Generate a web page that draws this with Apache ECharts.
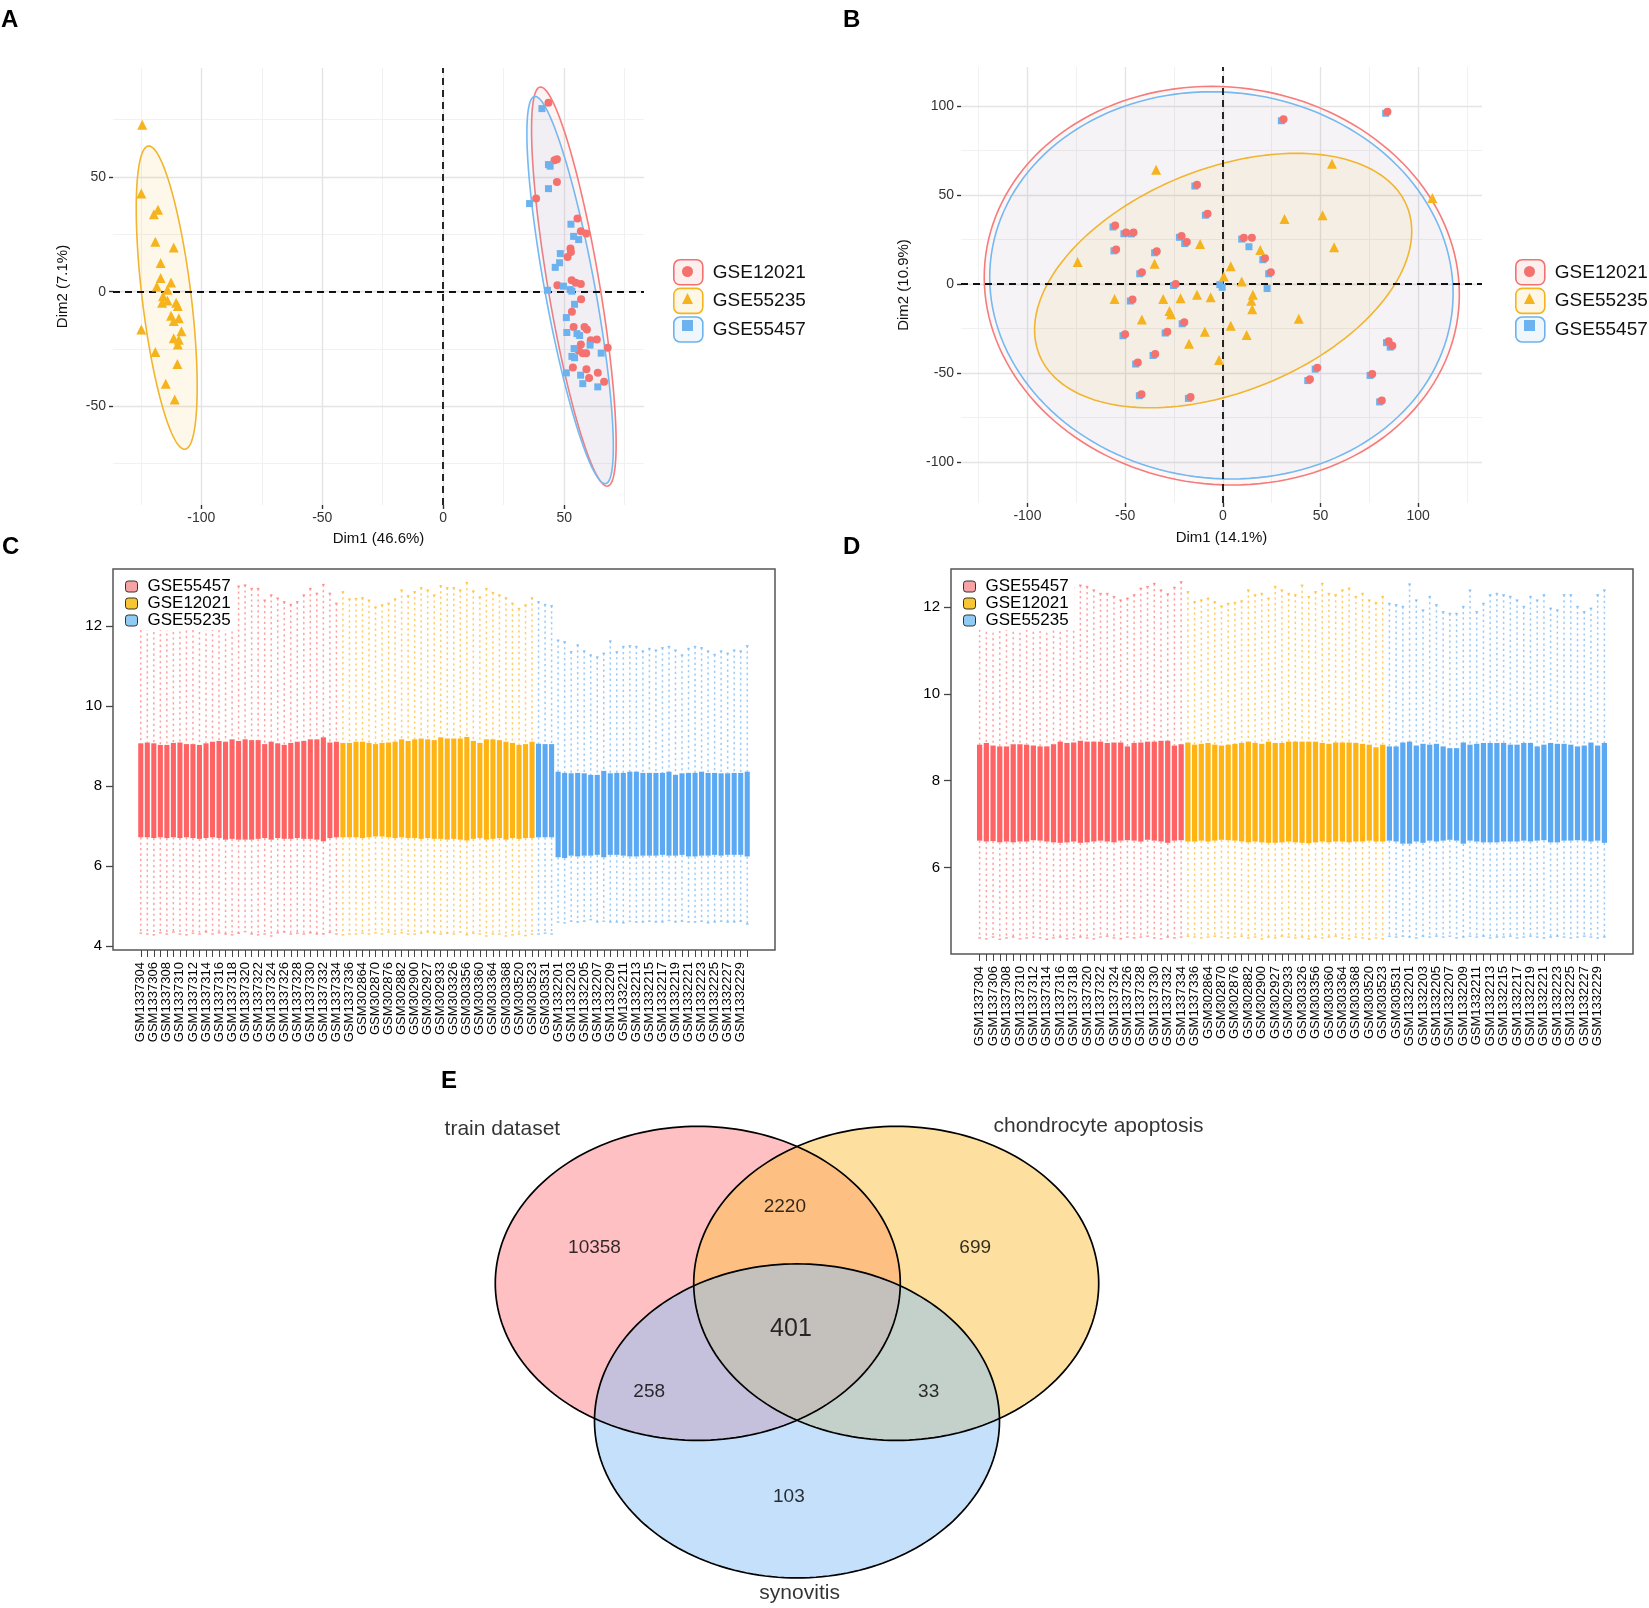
<!DOCTYPE html>
<html><head><meta charset="utf-8">
<script src="https://cdn.jsdelivr.net/npm/echarts@6/dist/echarts.min.js"></script>
<style>html,body{margin:0;padding:0;background:#fff}#c{width:1649px;height:1608px}</style>
</head><body><div id="c"></div>
<script>
// ---------------- DATA ----------------
// Panel A (PCA before batch correction): [Dim1, Dim2]
const A_GSE12021 = [[43.5,82.3],[47.0,57.7],[46.0,57.3],[47.0,47.8],[38.4,40.6],[55.5,31.9],[56.9,26.3],[59.1,25.3],[52.6,18.8],[52.8,17.3],[51.4,15.1],[47.2,2.8],[53.1,5.0],[54.8,3.9],[56.9,3.3],[57.0,-3.3],[53.2,-8.8],[53.9,-15.4],[58.4,-15.4],[59.4,-16.5],[61.0,-21.2],[63.5,-20.9],[68.0,-24.4],[56.9,-23.0],[56.0,-25.6],[57.7,-26.8],[59.1,-26.8],[53.6,-33.1],[59.2,-33.8],[63.9,-35.4],[60.3,-37.6],[66.5,-39.3]];
const A_GSE55235 = [[-124.4,72.8],[-124.8,42.8],[-117.9,35.7],[-119.6,33.8],[-119.0,21.8],[-111.4,19.2],[-116.8,12.5],[-116.8,6.0],[-118.4,2.3],[-112.5,4.0],[-114.0,0.8],[-115.8,-2.0],[-114.0,-3.8],[-116.2,-4.8],[-110.4,-4.8],[-109.7,-6.3],[-112.5,-10.5],[-111.4,-12.8],[-109.3,-11.6],[-108.2,-17.3],[-111.4,-20.3],[-109.3,-21.0],[-109.7,-23.0],[-124.8,-16.5],[-119.0,-26.3],[-109.9,-31.5],[-114.7,-40.1],[-111.0,-47.0]];
const A_GSE55457 = [[40.8,79.8],[43.5,55.4],[44.2,54.7],[43.5,44.9],[35.7,38.4],[52.8,29.4],[53.9,24.1],[56.0,22.7],[48.4,16.6],[48.1,12.6],[46.3,10.6],[43.1,0.6],[49.7,2.4],[52.5,0.9],[53.2,0.2],[54.3,-5.5],[50.9,-11.3],[51.1,-17.8],[55.3,-18.3],[56.4,-19.1],[60.7,-23.3],[54.1,-24.8],[53.2,-28.2],[54.3,-28.8],[65.3,-26.8],[50.9,-35.4],[56.8,-36.4],[57.7,-40.1],[63.9,-41.5]];
// ellipses: [centerX, centerY, axis1X, axis1Y, axis2X, axis2Y]
const A_ELL_GSE12021 = [54.0,2.2,-13.75,87.0,10.8,0];
const A_ELL_GSE55235 = [-114.3,-2.6,-7.4,66.1,10.2,0];
const A_ELL_GSE55457 = [52.45,0.7,-14.45,84.4,10.5,0];

// Panel B (PCA after batch correction)
const B_GSE12021 = [[31.1,92.6],[84.3,96.9],[-13.2,55.9],[-7.8,39.5],[-55.1,32.9],[-49.5,29.0],[-45.7,29.0],[-54.6,19.5],[-33.8,18.4],[-41.4,6.6],[-21.1,27.1],[-18.4,23.6],[10.8,26.1],[14.9,26.1],[21.6,14.5],[24.6,6.6],[-24.1,0.0],[-46.2,-8.7],[-50.0,-28.2],[-19.7,-21.5],[-28.4,-26.7],[-34.6,-39.3],[-43.5,-44.1],[-41.6,-61.9],[-16.5,-63.4],[48.4,-47.0],[44.6,-53.4],[76.5,-50.5],[81.4,-65.4],[84.9,-32.1],[86.8,-34.6]];
const B_GSE55235 = [[-34.1,64.2],[55.9,67.7],[107.3,48.4],[31.6,36.6],[51.1,38.7],[57.0,20.7],[-11.6,22.6],[19.2,19.1],[-74.3,12.4],[-34.9,11.4],[4.1,10.1],[0.5,4.3],[9.7,1.4],[-55.4,-8.3],[-30.5,-8.3],[-21.6,-7.9],[-13.2,-6.0],[-6.2,-7.4],[15.4,-6.0],[14.6,-9.3],[15.1,-14.1],[-41.4,-19.9],[-27.3,-15.1],[-26.5,-17.0],[38.9,-19.5],[-9.2,-26.7],[4.1,-23.4],[12.2,-28.6],[-17.3,-33.5],[-1.9,-42.6]];
const B_GSE55457 = [[30.0,91.8],[83.4,96.0],[-14.3,55.1],[-8.9,38.7],[-56.2,32.1],[-50.6,28.3],[-46.8,28.2],[-55.7,18.7],[-34.9,17.6],[-42.5,5.8],[-22.2,26.3],[-19.5,22.8],[9.7,25.3],[13.4,21.0],[20.5,13.7],[23.5,5.8],[-25.2,-0.8],[-47.3,-9.5],[-51.1,-29.0],[-20.8,-22.3],[-29.5,-27.5],[-35.7,-40.1],[-44.6,-44.9],[-42.7,-62.7],[-17.6,-64.2],[47.3,-47.8],[43.5,-54.2],[75.4,-51.3],[80.3,-66.2],[83.8,-32.9],[85.7,-35.4],[22.7,-2.5],[-1.5,-0.3],[-0.3,-1.8]];
const B_ELL_GSE12021 = [-0.5,-0.9,-5.2,112.0,121.5,0];
const B_ELL_GSE55235 = [0.2,2.0,37.4,71.5,89.0,0];
const B_ELL_GSE55457 = [-0.7,-0.7,-5.0,108.8,118.5,0];

// Axis ticks / grid values
const ticksA_x = [-100,-50,0,50], ticksA_y = [-50,0,50];
const minorA_x = [-125,-75,-25,25,75], minorA_y = [-75,-25,25,75];
const ticksB = [-100,-50,0,50,100];
const minorB_x = [-125,-75,-25,25,75,125], minorB_y = [-75,-25,25,75];
const ticksC_y = [4,6,8,10,12], ticksD_y = [6,8,10,12];

// Panels C/D: sample names
const samples = [
 'GSM1337304','GSM1337305','GSM1337306','GSM1337307','GSM1337308','GSM1337309','GSM1337310','GSM1337311','GSM1337312','GSM1337313','GSM1337314','GSM1337315','GSM1337316','GSM1337317','GSM1337318','GSM1337319','GSM1337320','GSM1337321','GSM1337322','GSM1337323','GSM1337324','GSM1337325','GSM1337326','GSM1337327','GSM1337328','GSM1337329','GSM1337330','GSM1337331','GSM1337332','GSM1337333','GSM1337334','GSM1337335','GSM1337336',
 'GSM302863','GSM302864','GSM302867','GSM302870','GSM302873','GSM302876','GSM302879','GSM302882','GSM302891','GSM302900','GSM302917','GSM302927','GSM302930','GSM302933','GSM303320','GSM303326','GSM303340','GSM303356','GSM303358','GSM303360','GSM303362','GSM303364','GSM303366','GSM303368','GSM303500','GSM303520','GSM303521','GSM303523','GSM303525','GSM303531','GSM303535',
 'GSM1332201','GSM1332202','GSM1332203','GSM1332204','GSM1332205','GSM1332206','GSM1332207','GSM1332208','GSM1332209','GSM1332210','GSM1332211','GSM1332212','GSM1332213','GSM1332214','GSM1332215','GSM1332216','GSM1332217','GSM1332218','GSM1332219','GSM1332220','GSM1332221','GSM1332222','GSM1332223','GSM1332224','GSM1332225','GSM1332226','GSM1332227','GSM1332228','GSM1332229','GSM1332230'];
// legend groups and how many consecutive boxes each colour covers
const boxGroups = ['GSE55457','GSE12021','GSE55235'];
const boxGroupCounts = [31,30,33];

// Panel C box statistics
const cUpper = [12.85,12.9,12.8,12.75,12.9,12.8,12.95,12.7,12.85,12.8,12.9,12.75,12.85,12.9,12.95,13.0,13.03,12.94,12.94,12.65,12.78,12.70,12.61,12.54,12.61,12.78,12.94,12.82,13.04,12.82,12.57,
 12.86,12.68,12.69,12.71,12.65,12.48,12.53,12.57,12.68,12.90,12.76,12.86,12.96,12.90,12.78,13.01,12.96,12.96,12.90,13.09,12.88,12.73,12.94,12.84,12.78,12.71,12.57,12.44,12.53,12.71,
 12.61,12.54,12.51,11.65,11.61,11.36,11.53,11.38,11.28,11.23,11.32,11.63,11.36,11.49,11.51,11.49,11.38,11.44,11.40,11.46,11.49,11.40,11.28,11.44,11.49,11.46,11.38,11.29,11.38,11.32,11.40,11.38,11.51];
const cQ3 = [9.07,9.09,9.07,9.03,9.03,9.08,9.09,9.05,9.05,9.03,9.07,9.11,9.13,9.11,9.17,9.13,9.17,9.15,9.15,9.05,9.11,9.07,9.03,9.08,9.11,9.13,9.17,9.17,9.22,9.09,9.11,
 9.08,9.08,9.11,9.11,9.08,9.05,9.08,9.09,9.11,9.17,9.13,9.17,9.19,9.17,9.15,9.22,9.19,9.19,9.19,9.23,9.13,9.08,9.17,9.17,9.15,9.11,9.08,9.03,9.05,9.11,
 9.06,9.05,9.05,8.36,8.33,8.32,8.33,8.32,8.28,8.28,8.38,8.32,8.33,8.33,8.36,8.36,8.33,8.33,8.33,8.33,8.36,8.28,8.32,8.33,8.33,8.36,8.33,8.33,8.32,8.32,8.33,8.33,8.36];
const cQ1 = [6.72,6.72,6.70,6.72,6.70,6.72,6.70,6.72,6.70,6.68,6.70,6.72,6.70,6.66,6.68,6.66,6.66,6.66,6.68,6.70,6.66,6.70,6.68,6.68,6.70,6.68,6.68,6.66,6.62,6.70,6.72,
 6.72,6.72,6.72,6.70,6.72,6.74,6.74,6.72,6.70,6.72,6.70,6.70,6.68,6.70,6.68,6.68,6.66,6.68,6.66,6.64,6.68,6.70,6.66,6.68,6.70,6.66,6.70,6.68,6.70,6.70,
 6.72,6.72,6.72,6.22,6.20,6.26,6.24,6.26,6.26,6.28,6.22,6.28,6.28,6.26,6.24,6.24,6.26,6.26,6.26,6.28,6.26,6.26,6.28,6.24,6.24,6.26,6.26,6.28,6.26,6.28,6.28,6.28,6.24];
const cLower = [4.32,4.30,4.28,4.33,4.30,4.35,4.30,4.28,4.32,4.30,4.35,4.30,4.33,4.30,4.28,4.32,4.36,4.30,4.28,4.30,4.25,4.33,4.35,4.30,4.32,4.30,4.33,4.30,4.30,4.34,4.30,
 4.28,4.30,4.30,4.32,4.30,4.33,4.30,4.35,4.30,4.33,4.30,4.30,4.32,4.35,4.33,4.30,4.32,4.30,4.35,4.28,4.32,4.30,4.25,4.30,4.30,4.25,4.28,4.30,4.26,4.30,
 4.30,4.32,4.30,4.60,4.58,4.62,4.60,4.62,4.66,4.60,4.62,4.60,4.60,4.58,4.62,4.60,4.60,4.62,4.60,4.60,4.64,4.60,4.62,4.60,4.60,4.62,4.58,4.60,4.62,4.60,4.60,4.62,4.55];

// Panel D box statistics
const dUpper = [12.35,12.30,12.28,12.32,12.25,12.30,12.28,12.35,12.30,12.32,12.28,12.33,12.30,12.35,12.45,12.50,12.47,12.39,12.31,12.31,12.24,12.16,12.20,12.28,12.43,12.47,12.54,12.39,12.30,12.45,12.58,
 12.35,12.12,12.16,12.20,12.12,12.02,12.08,12.10,12.14,12.39,12.28,12.31,12.20,12.47,12.39,12.31,12.28,12.50,12.24,12.35,12.54,12.31,12.28,12.39,12.43,12.24,12.31,12.16,12.10,12.24,
 12.08,12.05,12.01,12.53,12.16,11.93,12.24,12.05,11.89,11.85,11.85,12.01,12.39,11.89,12.08,12.28,12.31,12.28,12.24,12.16,12.01,12.24,12.16,12.28,11.97,11.93,12.28,12.28,12.01,11.89,11.97,12.28,12.39];
const dQ3 = [8.83,8.87,8.81,8.79,8.79,8.84,8.84,8.83,8.81,8.79,8.79,8.84,8.90,8.87,8.88,8.92,8.90,8.90,8.90,8.87,8.88,8.88,8.79,8.87,8.88,8.90,8.90,8.92,8.92,8.81,8.84,
 8.88,8.83,8.85,8.87,8.83,8.81,8.83,8.85,8.87,8.90,8.87,8.85,8.90,8.87,8.87,8.90,8.90,8.90,8.90,8.90,8.87,8.85,8.88,8.88,8.88,8.87,8.85,8.83,8.77,8.83,
 8.79,8.79,8.88,8.90,8.81,8.85,8.83,8.85,8.79,8.75,8.75,8.88,8.83,8.85,8.87,8.87,8.87,8.87,8.83,8.83,8.87,8.87,8.79,8.83,8.87,8.85,8.85,8.83,8.79,8.81,8.88,8.81,8.87];
const dQ1 = [6.62,6.60,6.61,6.58,6.60,6.58,6.60,6.60,6.63,6.62,6.60,6.58,6.57,6.58,6.60,6.57,6.58,6.60,6.62,6.60,6.58,6.62,6.63,6.62,6.60,6.64,6.62,6.60,6.57,6.62,6.63,
 6.60,6.60,6.62,6.60,6.62,6.64,6.63,6.62,6.60,6.58,6.60,6.58,6.57,6.57,6.58,6.60,6.58,6.57,6.56,6.58,6.60,6.58,6.60,6.60,6.58,6.60,6.60,6.62,6.60,6.60,
 6.62,6.60,6.55,6.55,6.60,6.57,6.62,6.60,6.62,6.64,6.62,6.55,6.62,6.60,6.58,6.58,6.58,6.60,6.60,6.60,6.62,6.60,6.62,6.63,6.58,6.58,6.62,6.62,6.63,6.62,6.60,6.62,6.57];
const dLower = [4.38,4.36,4.40,4.35,4.38,4.40,4.36,4.38,4.40,4.38,4.35,4.38,4.40,4.36,4.38,4.40,4.38,4.36,4.40,4.42,4.38,4.36,4.40,4.38,4.40,4.42,4.38,4.36,4.40,4.38,4.40,
 4.42,4.40,4.38,4.40,4.42,4.40,4.38,4.40,4.42,4.38,4.40,4.36,4.40,4.38,4.42,4.40,4.38,4.40,4.36,4.40,4.38,4.40,4.42,4.38,4.36,4.40,4.38,4.35,4.38,4.36,
 4.42,4.40,4.42,4.40,4.38,4.42,4.40,4.42,4.40,4.42,4.38,4.40,4.42,4.40,4.42,4.38,4.40,4.40,4.42,4.38,4.40,4.42,4.40,4.38,4.40,4.42,4.40,4.38,4.40,4.42,4.40,4.38,4.40];

// Panel E: Venn
const vennSets = ['train dataset','chondrocyte apoptosis','synovitis'];
const vennRegions = ['train only','train∩chondro','chondro only','all','train∩syn','chondro∩syn','syn only'];
const vennCounts = [10358,2220,699,401,258,33,103];

// ---------------- LAYOUT / STYLE ----------------
const FONT = 'Liberation Sans';
const PT = {GSE12021:'#F4716E', GSE55235:'#F5B41E', GSE55457:'#6CB2EE'};
const BOX = {GSE55457:'#FF6363', GSE12021:'#FFB414', GSE55235:'#5AA9F2'};
const WHISK = {GSE55457:'rgba(255,99,99,0.6)', GSE12021:'rgba(255,180,20,0.65)', GSE55235:'rgba(90,169,242,0.6)'};
const LEGBOX = {GSE55457:'#F6A3A6', GSE12021:'#F7C631', GSE55235:'#8FCBF2'};
const VENN_CENTERS = [[-0.49,0.292],[0.49,0.292],[0,-0.584]];
const VENN_FILL = ['rgba(255,129,137,0.5)','rgba(251,193,65,0.5)','rgba(139,193,245,0.5)'];
const VENN_LABEL_POS = [[-1.0,0.52],[-0.06,0.78],[0.88,0.52],[-0.03,0.0],[-0.73,-0.40],[0.65,-0.40],[-0.04,-1.07]];
const VENN_NAME_POS = [[-1.455,1.277],[1.489,1.29],[0.013,-1.684]];

const lineGrid = (v, axis, major) => ({[axis]: v, lineStyle: {color: major ? '#E4E4E4' : '#F1F1F1', width: major ? 1.4 : 1, type: 'solid'}});

function pcaAxis(gridIndex, min, max, ticks, name, gap, isY) {
  return {
    type: 'value', gridIndex, min, max, name, nameLocation: 'middle', nameGap: gap,
    nameTextStyle: {fontSize: 15, color: '#111', fontFamily: FONT},
    axisLine: {show: false, onZero: false}, splitLine: {show: false},
    axisTick: {show: true, customValues: ticks, length: 4, lineStyle: {color: '#333', width: 1.4}},
    axisLabel: {customValues: ticks, fontSize: 14, color: '#333', margin: isY ? 7 : 6, fontFamily: FONT}
  };
}

function ellipseSeries(arr, color, fill, xi, yi) {
  return {
    type: 'custom', name: '_ell', xAxisIndex: xi, yAxisIndex: yi, z: 1, silent: true,
    data: [arr],
    renderItem: function (params, api) {
      const cx = api.value(0), cy = api.value(1), ax = api.value(2), ay = api.value(3), bx = api.value(4), by = api.value(5);
      const pts = [];
      for (let i = 0; i < 160; i++) {
        const t = i / 160 * Math.PI * 2;
        pts.push(api.coord([cx + ax * Math.cos(t) + bx * Math.sin(t), cy + ay * Math.cos(t) + by * Math.sin(t)]));
      }
      return {type: 'polygon', shape: {points: pts}, style: {fill: fill, stroke: color, lineWidth: 1.6}};
    }
  };
}

function gridLinesSeries(xi, yi, majX, minX, majY, minY) {
  const d = [];
  minX.forEach(v => d.push(lineGrid(v, 'xAxis', false)));
  minY.forEach(v => d.push(lineGrid(v, 'yAxis', false)));
  majX.forEach(v => d.push(lineGrid(v, 'xAxis', true)));
  majY.forEach(v => d.push(lineGrid(v, 'yAxis', true)));
  return {type: 'scatter', name: '_grid', xAxisIndex: xi, yAxisIndex: yi, data: [], z: 0, silent: true,
    markLine: {silent: true, z: 0, symbol: ['none', 'none'], animation: false, label: {show: false}, data: d}};
}
function zeroLinesSeries(xi, yi) {
  const st = {color: '#111', width: 1.8, type: [7, 5]};
  return {type: 'scatter', name: '_zero', xAxisIndex: xi, yAxisIndex: yi, data: [], z: 3, silent: true,
    markLine: {silent: true, z: 3, symbol: ['none', 'none'], animation: false, label: {show: false},
      data: [{xAxis: 0, lineStyle: st}, {yAxis: 0, lineStyle: st}]}};
}
function ptsSeries(name, data, symbol, size, xi, yi, z) {
  return {type: 'scatter', name, data, symbol, symbolSize: size, xAxisIndex: xi, yAxisIndex: yi, z: z, silent: true,
    itemStyle: {color: PT[name], opacity: 1}};
}

// Box plots
const BOX_W = 0.78, STAPLE_W = 0.4;
function boxSeries(name, rows, xi, yi) {
  const fill = BOX[name], wc = WHISK[name];
  return {
    type: 'custom', name, xAxisIndex: xi, yAxisIndex: yi, silent: true, z: 2,
    itemStyle: {color: fill},
    data: rows,
    renderItem: function (params, api) {
      const x = api.value(0), lo = api.value(1), q1 = api.value(2), q3 = api.value(3), hi = api.value(4);
      const pHi = api.coord([x, hi]), pQ3 = api.coord([x, q3]), pQ1 = api.coord([x, q1]), pLo = api.coord([x, lo]);
      const w = api.size([BOX_W, 0])[0], sw = api.size([STAPLE_W, 0])[0];
      const ws = {stroke: wc, lineWidth: 1.5, lineDash: [2.2, 3.2]};
      return {type: 'group', children: [
        {type: 'line', shape: {x1: pHi[0], y1: pHi[1], x2: pQ3[0], y2: pQ3[1]}, style: ws},
        {type: 'line', shape: {x1: pQ1[0], y1: pQ1[1], x2: pLo[0], y2: pLo[1]}, style: ws},
        {type: 'line', shape: {x1: pHi[0] - sw / 2, y1: pHi[1], x2: pHi[0] + sw / 2, y2: pHi[1]}, style: {stroke: wc, lineWidth: 1.5}},
        {type: 'line', shape: {x1: pLo[0] - sw / 2, y1: pLo[1], x2: pLo[0] + sw / 2, y2: pLo[1]}, style: {stroke: wc, lineWidth: 1.5}},
        {type: 'rect', shape: {x: pQ3[0] - w / 2, y: pQ3[1], width: w, height: pQ1[1] - pQ3[1]}, style: {fill: fill}}
      ]};
    }
  };
}
function boxPanelSeries(upper, q3, q1, lower, xi, yi) {
  const out = [];
  let start = 0;
  boxGroups.forEach((g, gi) => {
    const rows = [];
    for (let i = start; i < start + boxGroupCounts[gi]; i++) rows.push([i + 1, lower[i], q1[i], q3[i], upper[i]]);
    start += boxGroupCounts[gi];
    out.push(boxSeries(g, rows, xi, yi));
  });
  return out;
}
const tickPos = samples.map((s, i) => i + 1);
const labelPos = tickPos.filter((p) => p % 2 === 1);
function boxXAxis(gridIndex) {
  return {type: 'value', gridIndex, min: -3.26, max: 98.26, splitLine: {show: false}, axisLine: {show: false, onZero: false},
    axisTick: {show: true, customValues: tickPos, length: 7, lineStyle: {color: '#444', width: 1}},
    axisLabel: {customValues: labelPos, rotate: 90, fontSize: 13, color: '#000', margin: 12, fontFamily: FONT,
      formatter: (v) => samples[Math.round(v) - 1]}};
}
function boxYAxis(gridIndex, min, max, ticks) {
  return {type: 'value', gridIndex, min, max, splitLine: {show: false}, axisLine: {show: false, onZero: false},
    axisTick: {show: true, customValues: ticks, length: 7, lineStyle: {color: '#444', width: 1.3}},
    axisLabel: {customValues: ticks, fontSize: 15, color: '#000', margin: 11, fontFamily: FONT}};
}

// Legends
function pcaLegends(left) {
  const names = ['GSE12021', 'GSE55235', 'GSE55457'];
  const icons = ['circle', 'triangle', 'rect'];
  const main = {selectedMode: false, orient: 'vertical', left: left, top: 259, itemWidth: 29, itemHeight: 25, itemGap: 2, padding: 0,
    icon: 'roundRect', textStyle: {fontSize: 19, color: '#111', fontFamily: FONT, padding: [0, 0, 0, 5]},
    data: names.map(n => ({name: n, itemStyle: {color: PT[n] + '1C', borderColor: PT[n], borderWidth: 1.6}}))};
  const syms = names.map((n, k) => ({selectedMode: false, left: left + 9, top: 259 + 7 + 27 * k, itemWidth: 11, itemHeight: 11, padding: 0,
    formatter: () => '', textStyle: {fontSize: 1},
    data: [{name: n, icon: icons[k], itemStyle: {color: PT[n], borderWidth: 0}}]}));
  return [main].concat(syms);
}
function boxLegend(left) {
  return {selectedMode: false, orient: 'vertical', left: left, top: 577, itemWidth: 12, itemHeight: 11, itemGap: 0,
    padding: [1, 6, 1, 2], backgroundColor: '#fff', icon: 'roundRect',
    textStyle: {fontSize: 17, lineHeight: 16, color: '#000', fontFamily: FONT, padding: [0, 0, 0, 5]},
    data: boxGroups.map(n => ({name: n, itemStyle: {color: LEGBOX[n], borderColor: '#333', borderWidth: 1}}))};
}

// Venn series
function vennShape(fillMode) {
  return {type: 'custom', name: '_venn', xAxisIndex: 4, yAxisIndex: 4, silent: true, z: fillMode ? 1 : 2,
    data: VENN_CENTERS.map((c, i) => ({name: vennSets[i], value: [c[0], c[1], 1]})),
    renderItem: function (params, api) {
      const cx = api.value(0), cy = api.value(1), r = api.value(2);
      const pts = [];
      for (let i = 0; i < 200; i++) {
        const t = i / 200 * Math.PI * 2;
        pts.push(api.coord([cx + r * Math.cos(t), cy + r * Math.sin(t)]));
      }
      return {type: 'polygon', shape: {points: pts},
        style: fillMode ? {fill: VENN_FILL[params.dataIndex], stroke: 'none'} : {fill: 'none', stroke: '#000', lineWidth: 1.7}};
    }};
}

const option = {
  animation: false,
  textStyle: {fontFamily: FONT},
  title: [
    {text: 'A', left: 1, top: 8},
    {text: 'B', left: 843, top: 8},
    {text: 'C', left: 2, top: 535},
    {text: 'D', left: 843, top: 535},
    {text: 'E', left: 441, top: 1069}
  ].map(t => Object.assign(t, {padding: 0, textStyle: {fontSize: 24, fontWeight: 'bold', color: '#000', fontFamily: FONT}})),
  grid: [
    {left: 113, top: 68, width: 531, height: 437},
    {left: 961, top: 67, width: 521, height: 436},
    {left: 113, top: 569, width: 662, height: 381, show: true, borderColor: '#555', borderWidth: 1.5},
    {left: 951, top: 569, width: 682, height: 385, show: true, borderColor: '#555', borderWidth: 1.5},
    {left: 392, top: 1078, width: 810, height: 526}
  ],
  xAxis: [
    pcaAxis(0, -136.5, 83, ticksA_x, 'Dim1 (46.6%)', 26, false),
    pcaAxis(1, -134, 132.7, ticksB, 'Dim1 (14.1%)', 27, false),
    boxXAxis(2),
    boxXAxis(3),
    {type: 'value', gridIndex: 4, min: -2, max: 2, show: false}
  ],
  yAxis: [
    pcaAxis(0, -93, 97.5, ticksA_y, 'Dim2 (7.1%)', 43, true),
    pcaAxis(1, -123, 122, ticksB, 'Dim2 (10.9%)', 50, true),
    boxYAxis(2, 3.9, 13.43, ticksC_y),
    boxYAxis(3, 4.01, 12.875, ticksD_y),
    {type: 'value', gridIndex: 4, min: -1.75, max: 1.6, show: false}
  ],
  legend: pcaLegends(673).concat(pcaLegends(1515)).concat([boxLegend(123), boxLegend(961)]),
  series: [
    gridLinesSeries(0, 0, ticksA_x, minorA_x, ticksA_y, minorA_y),
    ellipseSeries(A_ELL_GSE55235, '#F2B530', 'rgba(245,180,30,0.09)', 0, 0),
    ellipseSeries(A_ELL_GSE12021, '#F47C7C', 'rgba(244,113,110,0.08)', 0, 0),
    ellipseSeries(A_ELL_GSE55457, '#74B9F2', 'rgba(108,178,238,0.08)', 0, 0),
    zeroLinesSeries(0, 0),
    ptsSeries('GSE12021', A_GSE12021, 'circle', 8, 0, 0, 4),
    ptsSeries('GSE55235', A_GSE55235, 'triangle', 10, 0, 0, 4),
    ptsSeries('GSE55457', A_GSE55457, 'rect', 7, 0, 0, 4),

    gridLinesSeries(1, 1, ticksB, minorB_x, ticksB, minorB_y),
    ellipseSeries(B_ELL_GSE12021, '#F47C7C', 'rgba(244,113,110,0.06)', 1, 1),
    ellipseSeries(B_ELL_GSE55457, '#74B9F2', 'rgba(108,178,238,0.07)', 1, 1),
    ellipseSeries(B_ELL_GSE55235, '#F2B530', 'rgba(245,180,30,0.08)', 1, 1),
    zeroLinesSeries(1, 1),
    ptsSeries('GSE55457', B_GSE55457, 'rect', 7, 1, 1, 4),
    ptsSeries('GSE12021', B_GSE12021, 'circle', 8, 1, 1, 5),
    ptsSeries('GSE55235', B_GSE55235, 'triangle', 10, 1, 1, 5)
  ]
  .concat(boxPanelSeries(cUpper, cQ3, cQ1, cLower, 2, 2))
  .concat(boxPanelSeries(dUpper, dQ3, dQ1, dLower, 3, 3))
  .concat([
    vennShape(true),
    vennShape(false),
    {type: 'scatter', name: '_vennCounts', xAxisIndex: 4, yAxisIndex: 4, symbolSize: 0, silent: true, z: 3,
      data: vennCounts.map((c, i) => ({name: vennRegions[i], value: [VENN_LABEL_POS[i][0], VENN_LABEL_POS[i][1], c],
        label: {fontSize: c === 401 ? 25 : 19}})),
      label: {show: true, position: 'inside', color: '#000', fontFamily: FONT, formatter: (p) => String(p.value[2])}},
    {type: 'scatter', name: '_vennNames', xAxisIndex: 4, yAxisIndex: 4, symbolSize: 0, silent: true, z: 3,
      data: vennSets.map((s, i) => ({name: s, value: VENN_NAME_POS[i]})),
      label: {show: true, position: 'inside', color: '#000', fontSize: 21, fontFamily: FONT, formatter: (p) => p.name}}
  ])
};

const chart = echarts.init(document.getElementById('c'), null, {renderer: 'canvas'});
chart.setOption(option);
</script></body></html>
